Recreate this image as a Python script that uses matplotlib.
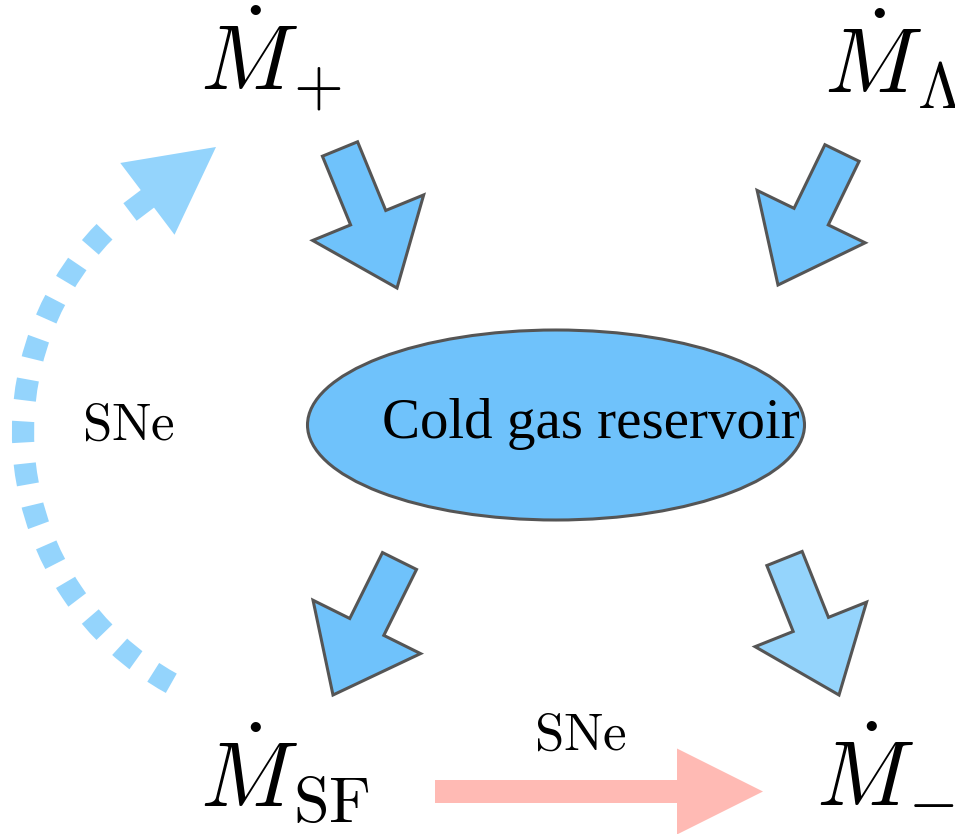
import matplotlib
matplotlib.use('Agg')
import matplotlib.pyplot as plt
import matplotlib.patches as mpatches

plt.rcParams['mathtext.fontset'] = 'cm'

# подписи потоков
flow_labels = [r'$\dot{M}_{+}$', r'$\dot{M}_{\Lambda}$', r'$\dot{M}_{\rm SF}$', r'$\dot{M}$']
flow_x = [200, 824, 200, 816]
flow_y = [90, 93, 806, 806]
minus_label = r'$-$'

reservoir_text = 'Cold gas reservoir'
sne_text = r'$\mathrm{SNe}$'

# стрелки к/от резервуара: хвост, острие, цвет
arrow_tail = [(340, 149), (842, 153), (399.5, 561), (784.5, 558.5)]
arrow_tip = [(397, 288), (778, 285), (333, 695), (839, 695)]
arrow_color = ['#6fc2fb', '#6fc2fb', '#6fc2fb', '#94d4fc']

# создаю окно в пикселях картинки
fig = plt.figure(figsize=(9.55, 8.34), dpi=100)
ax = fig.add_axes([0, 0, 1, 1])
ax.set_xlim(0, 955)
ax.set_ylim(834, 0)
ax.axis('off')

# резервуар холодного газа
ell = mpatches.Ellipse((556, 425), 497, 190, facecolor='#6fc2fb',
                       edgecolor='#555555', linewidth=2.2)
ax.add_patch(ell)
ax.text(591, 438, reservoir_text, family='Liberation Serif', fontsize=41,
        ha='center', va='baseline', color='black')

# синие блочные стрелки
for (x0, y0), (x1, y1), c in zip(arrow_tail, arrow_tip, arrow_color):
    a = mpatches.FancyArrow(x0, y0, x1 - x0, y1 - y0, width=38, head_width=120,
                            head_length=76, length_includes_head=True,
                            facecolor=c, edgecolor='#555555', linewidth=2.2,
                            joinstyle='miter')
    ax.add_patch(a)

# пунктирная дуга (SNe -> M+)
arc = mpatches.Arc((310, 432), 574, 574, theta1=118.9, theta2=227.8,
                   color='#94d4fc', linewidth=16, linestyle=(0, (0.95, 0.95)))
arc.set_capstyle('butt')
ax.add_patch(arc)
head = mpatches.FancyArrow(130, 212, 86, -65, width=22, head_width=90,
                           head_length=86, length_includes_head=True,
                           facecolor='#94d4fc', edgecolor='none')
ax.add_patch(head)

# розовая стрелка M_SF -> M_-
pink = mpatches.FancyArrow(435, 791.5, 328, 0, width=23, head_width=86,
                           head_length=86, length_includes_head=True,
                           facecolor='#ffbab4', edgecolor='none')
ax.add_patch(pink)

# подписи
for lab, x, y in zip(flow_labels, flow_x, flow_y):
    ax.text(x, y, lab, fontsize=66, ha='left', va='baseline')
# индекс "минус" отдельно, чтобы не уехал за край
ax.text(908, 820, minus_label, fontsize=46, ha='left', va='baseline')

ax.text(128, 440, sne_text, fontsize=38, ha='center', va='baseline')
ax.text(580, 750, sne_text, fontsize=38, ha='center', va='baseline')

fig.savefig('out.png', dpi=100)
